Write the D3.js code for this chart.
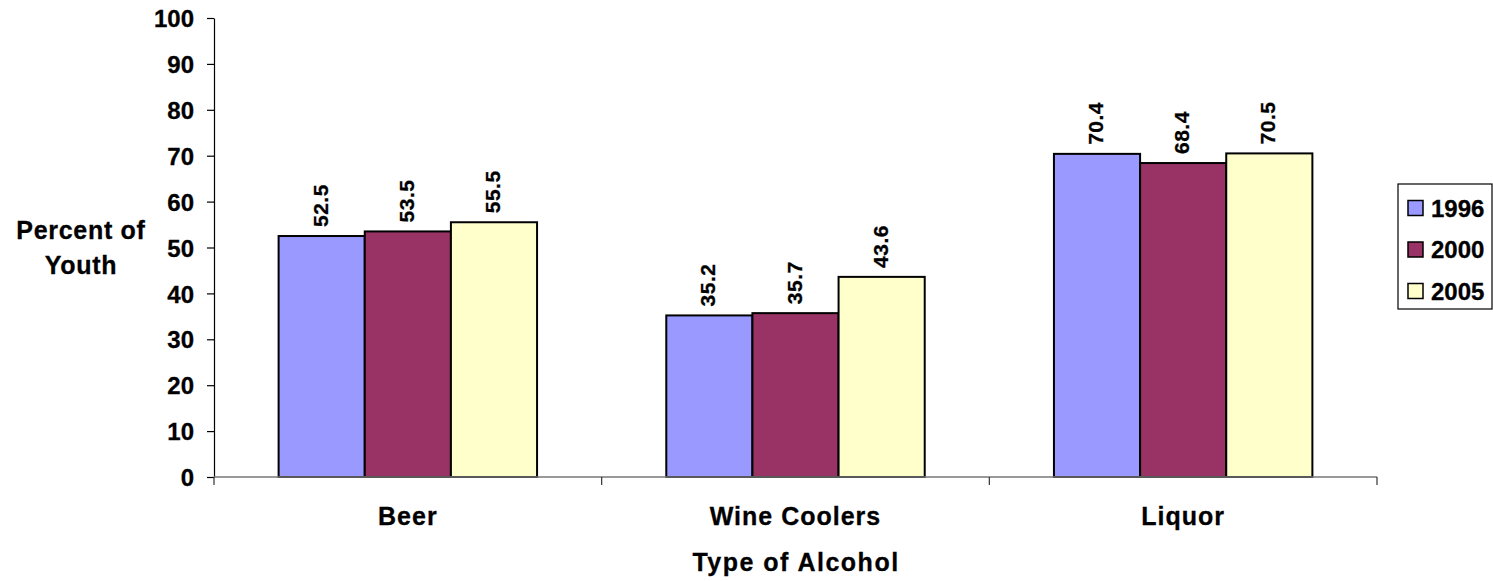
<!DOCTYPE html>
<html>
<head>
<meta charset="utf-8">
<script src="https://cdn.jsdelivr.net/npm/d3@7"></script>
<style>
  html, body { margin: 0; padding: 0; background: #fff; }
  svg { display: block; font-family: 'Liberation Sans', Arial, sans-serif; font-weight: bold; }
  text { stroke: #000; stroke-width: 0.3px; }
</style>
</head>
<body>
<svg id="chart" width="1493" height="581"></svg>
<script>
const categories = ['Beer', 'Wine Coolers', 'Liquor'];
const seriesNames = ['1996', '2000', '2005'];
const values1996 = [52.5, 35.2, 70.4];
const values2000 = [53.5, 35.7, 68.4];
const values2005 = [55.5, 43.6, 70.5];
const colors = ['#9999ff', '#993366', '#ffffcc'];
const yTicks = [0, 10, 20, 30, 40, 50, 60, 70, 80, 90, 100];

const seriesValues = [values1996, values2000, values2005];
const rows = categories.map((cat, i) => ({
  category: cat,
  bars: seriesNames.map((name, j) => ({ name, value: seriesValues[j][i], color: colors[j] })),
}));

const svg = d3.select('#chart');
const margin = { left: 214, right: 116, top: 18, bottom: 104 };
const width = 1493;
const height = 581;

const x0 = d3
  .scaleBand()
  .domain(categories)
  .range([margin.left, width - margin.right])
  .paddingInner(0)
  .paddingOuter(0);

const x1 = d3
  .scaleBand()
  .domain(seriesNames)
  .range([0, x0.bandwidth()])
  .paddingInner(0)
  .paddingOuter(0.75);

const y = d3
  .scaleLinear()
  .domain([0, 100])
  .range([height - margin.bottom, margin.top]);

// y axis
const yAxis = svg
  .append('g')
  .attr('transform', `translate(${margin.left},0)`)
  .call(d3.axisLeft(y).tickValues(yTicks).tickSize(7).tickSizeOuter(0).tickPadding(13));
yAxis.select('.domain').attr('stroke', '#000').attr('stroke-width', 1.2);
yAxis.selectAll('.tick line').attr('stroke', '#000').attr('stroke-width', 1.2);
yAxis
  .selectAll('.tick text')
  .attr('font-size', 24)
  .attr('font-family', "'Liberation Sans', Arial, sans-serif")
  .attr('font-weight', 'bold')
  .attr('fill', '#000')
  .attr('dy', '0.36em');

// bars
const groups = svg
  .selectAll('g.group')
  .data(rows)
  .enter()
  .append('g')
  .attr('class', 'group')
  .attr('transform', (d) => `translate(${x0(d.category)},0)`);

groups
  .selectAll('rect')
  .data((d) => d.bars)
  .enter()
  .append('rect')
  .attr('x', (d) => x1(d.name))
  .attr('y', (d) => y(d.value))
  .attr('width', x1.bandwidth())
  .attr('height', (d) => y(0) - y(d.value))
  .attr('fill', (d) => d.color)
  .attr('stroke', '#000')
  .attr('stroke-width', 2);

groups
  .selectAll('text.value')
  .data((d) => d.bars)
  .enter()
  .append('text')
  .attr('class', 'value')
  .attr('transform', (d) => `translate(${x1(d.name) + x1.bandwidth() / 2 + 6},${y(d.value) - 9}) rotate(-90)`)
  .attr('text-anchor', 'start')
  .attr('font-size', 21)
  .attr('letter-spacing', 0.5)
  .text((d) => d.value.toFixed(1));

// x axis
const xAxisY = y(0);
const xEnds = categories.map((c) => x0(c)).concat([x0.range()[1]]);
svg
  .append('line')
  .attr('x1', x0.range()[0])
  .attr('x2', x0.range()[1])
  .attr('y1', xAxisY)
  .attr('y2', xAxisY)
  .attr('stroke', '#777')
  .attr('stroke-width', 1.5);
svg
  .selectAll('line.xtick')
  .data(xEnds)
  .enter()
  .append('line')
  .attr('class', 'xtick')
  .attr('x1', (d) => d)
  .attr('x2', (d) => d)
  .attr('y1', xAxisY)
  .attr('y2', xAxisY + 8)
  .attr('stroke', '#333')
  .attr('stroke-width', 1.2);

svg
  .selectAll('text.cat')
  .data(categories)
  .enter()
  .append('text')
  .attr('class', 'cat')
  .attr('x', (d) => x0(d) + x0.bandwidth() / 2)
  .attr('y', 525)
  .attr('text-anchor', 'middle')
  .attr('font-size', 25)
  .attr('letter-spacing', 1)
  .text((d) => d);

// axis titles
svg
  .append('text')
  .attr('x', 796)
  .attr('y', 571)
  .attr('text-anchor', 'middle')
  .attr('font-size', 25)
  .attr('letter-spacing', 1.5)
  .text('Type of Alcohol');

const yTitle = svg
  .append('text')
  .attr('text-anchor', 'middle')
  .attr('font-size', 25)
  .attr('letter-spacing', 0.7);
yTitle.append('tspan').attr('x', 81).attr('y', 239).text('Percent of');
yTitle.append('tspan').attr('x', 81).attr('y', 274).text('Youth');

// legend
const legend = svg.append('g').attr('transform', 'translate(1398,184)');
legend
  .append('rect')
  .attr('width', 94)
  .attr('height', 125)
  .attr('fill', '#fff')
  .attr('stroke', '#000')
  .attr('stroke-width', 1.2);

const legendItems = legend
  .selectAll('g.item')
  .data(seriesNames)
  .enter()
  .append('g')
  .attr('class', 'item')
  .attr('transform', (d, i) => `translate(10,${24 + i * 41.5})`);

legendItems
  .append('rect')
  .attr('x', 0)
  .attr('y', -7.5)
  .attr('width', 15)
  .attr('height', 15)
  .attr('fill', (d, i) => colors[i])
  .attr('stroke', '#000')
  .attr('stroke-width', 1.5);

legendItems
  .append('text')
  .attr('x', 23)
  .attr('y', 0)
  .attr('dy', '0.36em')
  .attr('font-size', 24)
  .text((d) => d);
</script>
</body>
</html>
